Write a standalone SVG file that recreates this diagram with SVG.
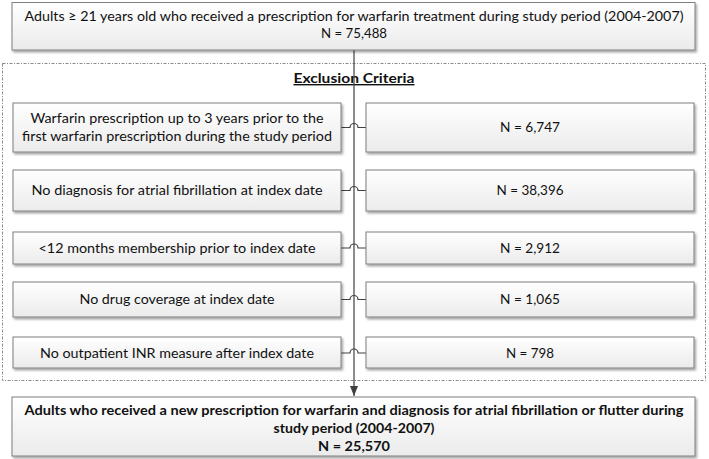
<svg xmlns="http://www.w3.org/2000/svg" width="709" height="459" viewBox="0 0 709 459">
<style>
.box{fill:url(#g);stroke:#7f7f7f;stroke-width:1;filter:url(#sh)}
.t{font-family:Lato,"Open Sans","Liberation Sans",sans-serif;font-size:14px;fill:#111;text-anchor:middle}
.b{font-weight:bold}
.c{fill:none;stroke:#404040;stroke-width:1.2}
</style>
<defs>
<linearGradient id="g" x1="0" y1="0" x2="0" y2="1">
<stop offset="0" stop-color="#ffffff"/>
<stop offset="1" stop-color="#ebebeb"/>
</linearGradient>
<filter id="sh" x="-5%" y="-20%" width="110%" height="150%">
<feDropShadow dx="1.5" dy="2" stdDeviation="1.2" flood-color="#000" flood-opacity="0.35"/>
</filter>
<marker id="ah" viewBox="0 0 10 10" refX="10" refY="5" markerWidth="10" markerHeight="10" markerUnits="userSpaceOnUse" orient="auto">
<path d="M0,1 L10,5 L0,9 z" fill="#404040"/>
</marker>
</defs>

<g id="exclusion-frame">
<rect x="2.5" y="63.5" width="703" height="317" fill="none" stroke="#8a8a8a" stroke-width="1" stroke-dasharray="3,1.5,1,1.5"/>
<text class="t b" x="354" y="83" font-size="15" textLength="121" lengthAdjust="spacingAndGlyphs" text-decoration="underline">Exclusion Criteria</text>
</g>

<g id="connectors">
<path class="c" d="M354,50 V396" marker-end="url(#ah)"/>
<path class="c" d="M341,127.5 H350 A4,4 0 0 1 358,127.5 H366"/>
<path class="c" d="M341,190.5 H350 A4,4 0 0 1 358,190.5 H366"/>
<path class="c" d="M341,248 H350 A4,4 0 0 1 358,248 H366"/>
<path class="c" d="M341,299.5 H350 A4,4 0 0 1 358,299.5 H366"/>
<path class="c" d="M341,353 H350 A4,4 0 0 1 358,353 H366"/>
</g>

<g id="top">
<rect class="box" x="12" y="2.5" width="683" height="47.5"/>
<text class="t" x="354" y="21" textLength="659" lengthAdjust="spacingAndGlyphs">Adults ≥ 21 years old who received a prescription for warfarin treatment during study period (2004-2007)</text>
<text class="t" x="354" y="38" textLength="66" lengthAdjust="spacingAndGlyphs">N = 75,488</text>
</g>

<g id="c1">
<rect class="box" x="13" y="103" width="328" height="49"/>
<text class="t" x="177" y="123" textLength="293" lengthAdjust="spacingAndGlyphs">Warfarin prescription up to 3 years prior to the</text>
<text class="t" x="177" y="141" textLength="310" lengthAdjust="spacingAndGlyphs">first warfarin prescription during the study period</text>
</g>
<g id="n1">
<rect class="box" x="366" y="103" width="328" height="49"/>
<text class="t" x="530" y="132" textLength="60" lengthAdjust="spacingAndGlyphs">N = 6,747</text>
</g>

<g id="c2">
<rect class="box" x="13" y="170" width="328" height="41"/>
<text class="t" x="177" y="195" textLength="291" lengthAdjust="spacingAndGlyphs">No diagnosis for atrial fibrillation at index date</text>
</g>
<g id="n2">
<rect class="box" x="366" y="170" width="328" height="41"/>
<text class="t" x="530" y="195" textLength="67" lengthAdjust="spacingAndGlyphs">N = 38,396</text>
</g>

<g id="c3">
<rect class="box" x="13" y="232" width="328" height="32"/>
<text class="t" x="177" y="252.5" textLength="277" lengthAdjust="spacingAndGlyphs">&lt;12 months membership prior to index date</text>
</g>
<g id="n3">
<rect class="box" x="366" y="232" width="328" height="32"/>
<text class="t" x="530" y="252.5" textLength="60" lengthAdjust="spacingAndGlyphs">N = 2,912</text>
</g>

<g id="c4">
<rect class="box" x="13" y="282" width="328" height="35"/>
<text class="t" x="177" y="304" textLength="195" lengthAdjust="spacingAndGlyphs">No drug coverage at index date</text>
</g>
<g id="n4">
<rect class="box" x="366" y="282" width="328" height="35"/>
<text class="t" x="530" y="304" textLength="60" lengthAdjust="spacingAndGlyphs">N = 1,065</text>
</g>

<g id="c5">
<rect class="box" x="13" y="337" width="328" height="31"/>
<text class="t" x="177" y="357.5" textLength="274" lengthAdjust="spacingAndGlyphs">No outpatient INR measure after index date</text>
</g>
<g id="n5">
<rect class="box" x="366" y="337" width="328" height="31"/>
<text class="t" x="530" y="357.5" textLength="48" lengthAdjust="spacingAndGlyphs">N = 798</text>
</g>

<g id="bottom">
<rect class="box" x="12" y="397" width="683" height="59"/>
<text class="t b" x="354" y="415" textLength="659" lengthAdjust="spacingAndGlyphs">Adults who received a new prescription for warfarin and diagnosis for atrial fibrillation or flutter during</text>
<text class="t b" x="354" y="433" textLength="161" lengthAdjust="spacingAndGlyphs">study period (2004-2007)</text>
<text class="t b" x="354" y="451" textLength="72" lengthAdjust="spacingAndGlyphs">N = 25,570</text>
</g>
</svg>
